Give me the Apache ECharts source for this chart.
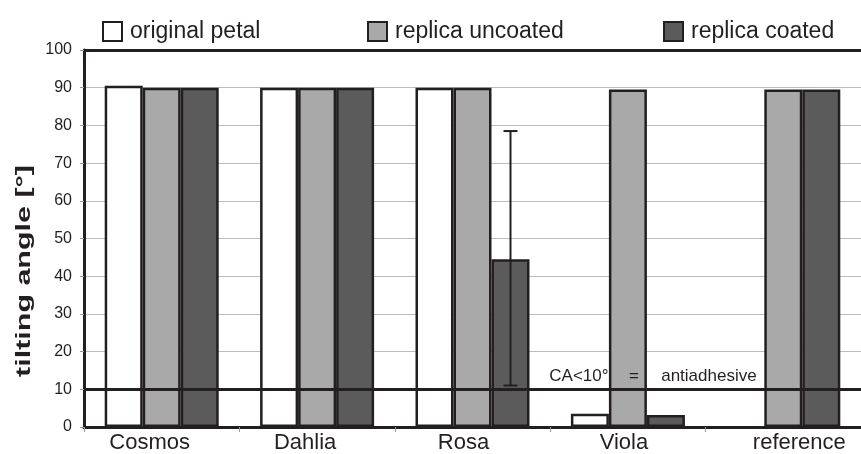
<!DOCTYPE html>
<html>
<head>
<meta charset="utf-8">
<script src="https://cdn.jsdelivr.net/npm/echarts@6/dist/echarts.min.js"></script>
<style>html,body{margin:0;padding:0;background:#fff}#c{width:861px;height:454px}</style>
</head>
<body>
<div id="c"></div>
<script>
var categories = ['Cosmos', 'Dahlia', 'Rosa', 'Viola', 'reference'];
var originalPetal = [90.5, 90, 90, 3.5, null];
var replicaUncoated = [90, 90, 90, 89.5, 89.5];
var replicaCoated = [90, 90, 44.5, 3.2, 89.5];
var coatedErrLow = [null, null, 11, null, null];
var coatedErrHigh = [null, null, 78.5, null, null];
var yTicks = [0, 10, 20, 30, 40, 50, 60, 70, 80, 90, 100];
var thresholdValue = 10;

var FONT = '"Liberation Sans", Arial, sans-serif';
var INK = '#231f20';
var BAR_W = 38;

var chart = echarts.init(document.getElementById('c'));

function barSeries(name, data, color) {
  return {
    name: name, type: 'bar', data: data, barWidth: BAR_W, barGap: '0%',
    itemStyle: { color: color, borderColor: INK, borderWidth: 2.5 },
    z: 2
  };
}

// small per-label horizontal nudges (px) to match the reference label placement
var labelShift = { Cosmos: -12, Dahlia: -12, Rosa: -9, Viola: -4, reference: 16 };
var rich = {};
categories.forEach(function (c) {
  var s = labelShift[c] || 0;
  rich['l_' + c] = {
    fontSize: 22, fontFamily: FONT, color: INK,
    padding: s < 0 ? [0, -2 * s, 0, 0] : [0, 0, 0, 2 * s]
  };
});

var option = {
  animation: false,
  backgroundColor: '#fff',
  grid: { left: 84, right: -3, top: 50, bottom: 27, containLabel: false },
  legend: [
    { data: ['original petal'], left: 97, top: 15, icon: 'rect', itemWidth: 19, itemHeight: 19,
      textStyle: { fontSize: 23, fontFamily: FONT, color: INK, padding: [0, 0, 0, 3] }, selectedMode: false },
    { data: ['replica uncoated'], left: 362, top: 15, icon: 'rect', itemWidth: 19, itemHeight: 19,
      textStyle: { fontSize: 23, fontFamily: FONT, color: INK, padding: [0, 0, 0, 3] }, selectedMode: false },
    { data: ['replica coated'], left: 658, top: 15, icon: 'rect', itemWidth: 19, itemHeight: 19,
      textStyle: { fontSize: 23, fontFamily: FONT, color: INK, padding: [0, 0, 0, 3] }, selectedMode: false }
  ],
  xAxis: {
    type: 'category', data: categories,
    axisLine: { lineStyle: { color: INK, width: 3 } },
    axisTick: { show: true, length: 5, lineStyle: { color: '#999', width: 1 } },
    axisLabel: { fontSize: 22, fontFamily: FONT, color: INK, margin: 5, rich: rich,
      interval: 0, hideOverlap: false,
      formatter: function (v) { return '{l_' + v + '|' + v + '}'; } },
    splitLine: { show: false }
  },
  yAxis: {
    type: 'value', min: 0, max: 100, interval: 10,
    axisLine: { show: true, lineStyle: { color: INK, width: 3 } },
    axisTick: { show: true, length: 4, lineStyle: { color: '#999', width: 1 } },
    axisLabel: { fontSize: 16, fontFamily: FONT, color: INK, margin: 12,
      formatter: function (v) { return yTicks.indexOf(v) >= 0 ? String(v) : ''; } },
    splitLine: { show: true, lineStyle: { color: '#bcbcbc', width: 1 } }
  },
  series: [
    barSeries('original petal', originalPetal, '#ffffff'),
    barSeries('replica uncoated', replicaUncoated, '#a9a9a9'),
    barSeries('replica coated', replicaCoated, '#5b5b5b'),
    {
      name: 'error', type: 'custom', z: 4,
      data: categories.map(function (c, i) { return [i, coatedErrLow[i], coatedErrHigh[i]]; })
        .filter(function (d) { return d[1] != null; }),
      encode: { x: 0, y: [1, 2] },
      renderItem: function (params, api) {
        var idx = api.value(0);
        var lo = api.coord([idx, api.value(1)]);
        var hi = api.coord([idx, api.value(2)]);
        var x = lo[0] + BAR_W;
        var cap = 7;
        var ls = { stroke: INK, lineWidth: 2 };
        return {
          type: 'group', children: [
            { type: 'line', shape: { x1: x, y1: lo[1], x2: x, y2: hi[1] }, style: ls },
            { type: 'line', shape: { x1: x - cap, y1: hi[1], x2: x + cap, y2: hi[1] }, style: ls },
            { type: 'line', shape: { x1: x - cap, y1: lo[1], x2: x + cap, y2: lo[1] }, style: ls }
          ]
        };
      }
    },
    {
      name: 'lines', type: 'line', data: [], z: 6,
      markLine: {
        silent: true, symbol: 'none', label: { show: false },
        lineStyle: { color: INK, width: 3, type: 'solid' },
        data: [{ yAxis: 100 }, { yAxis: thresholdValue }]
      }
    }
  ]
};
chart.setOption(option);

var base = chart.convertToPixel({ xAxisIndex: 0, yAxisIndex: 0 }, ['Viola', thresholdValue]);
var ty = base[1] - 13;
chart.setOption({
  graphic: [
    { type: 'text', x: 24, y: 271, rotation: Math.PI / 2, scaleX: 1.45, z: 10,
      style: { text: 'tilting angle [°]', font: 'bold 21px ' + FONT, fill: INK, align: 'center', verticalAlign: 'middle' } },
    { type: 'text', x: base[0] - 49, y: ty, z: 10,
      style: { text: 'CA<10°', font: '17px ' + FONT, fill: INK, align: 'center', verticalAlign: 'middle' } },
    { type: 'text', x: base[0] + 6, y: ty, z: 10,
      style: { text: '=', font: '17px ' + FONT, fill: INK, align: 'center', verticalAlign: 'middle' } },
    { type: 'text', x: base[0] + 81, y: ty, z: 10,
      style: { text: 'antiadhesive', font: '17px ' + FONT, fill: INK, align: 'center', verticalAlign: 'middle' } }
  ]
});
</script>
</body>
</html>
